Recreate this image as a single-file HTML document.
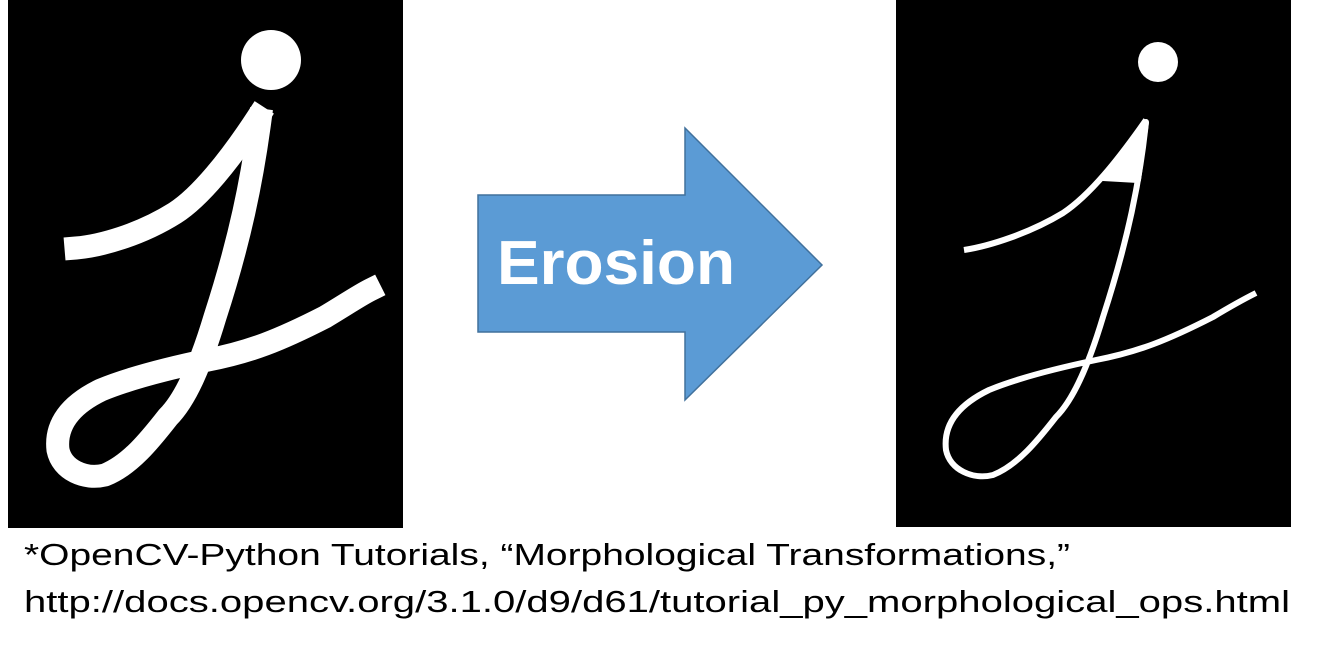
<!DOCTYPE html>
<html><head><meta charset="utf-8"><style>
html,body{margin:0;padding:0;background:#fff;width:1332px;height:649px;overflow:hidden}
svg{position:absolute;left:0;top:0}
</style></head><body>
<svg width="1332" height="649" viewBox="0 0 1332 649">
<rect x="8" y="0" width="395" height="528" fill="#000"/>
<g fill="none" stroke="#fff" stroke-width="23" stroke-linejoin="round" stroke-linecap="square">
<path d="M76 248 C100 246 140 235 175 213 C200 197 230 160 258 117"/>
<path d="M260 120 C252 180 240 240 215 317 C200 367 185 400 168 417 C150 440 130 465 105 475 C85 480 62 470 58 450 C55 425 70 405 101 390 C130 378 170 368 208 360 C250 352 280 340 325 317 C345 305 360 295 370 290"/>
</g>
<circle cx="271" cy="60" r="30" fill="#fff"/>
<rect x="896" y="0" width="395" height="527" fill="#000"/>
<g fill="none" stroke="#fff" stroke-width="6" stroke-linejoin="round">
<path d="M964 250 C990 246 1030 233 1063 213 C1090 195 1118 160 1146 120"/>
<path d="M1146 122 C1140 180 1128 240 1103 317 C1088 367 1073 400 1056 417 C1038 440 1018 465 993 475 C973 480 950 470 946 450 C943 425 958 405 989 390 C1018 378 1058 368 1096 360 C1138 352 1168 340 1213 317 C1233 305 1248 297 1256 293"/>
<path d="M1103 178 L1146 122 L1138 180 Z" fill="#fff"/>
</g>
<circle cx="1158" cy="62" r="20" fill="#fff"/>
<path d="M478 195 H685 V128 L822 265 L685 400 V332 H478 Z" fill="#5b9bd5" stroke="#41719c" stroke-width="1.5"/>
<text x="497" y="284" textLength="238" lengthAdjust="spacingAndGlyphs" font-family="Liberation Sans, sans-serif" font-weight="bold" font-size="62" fill="#fff">Erosion</text>
<text x="24" y="565" textLength="1046" lengthAdjust="spacingAndGlyphs" font-family="Liberation Sans, sans-serif" font-size="31" fill="#000">*OpenCV-Python Tutorials, “Morphological Transformations,”</text>
<text x="24" y="612" textLength="1266" lengthAdjust="spacingAndGlyphs" font-family="Liberation Sans, sans-serif" font-size="31" fill="#000">http://docs.opencv.org/3.1.0/d9/d61/tutorial_py_morphological_ops.html</text>
</svg>
</body></html>
